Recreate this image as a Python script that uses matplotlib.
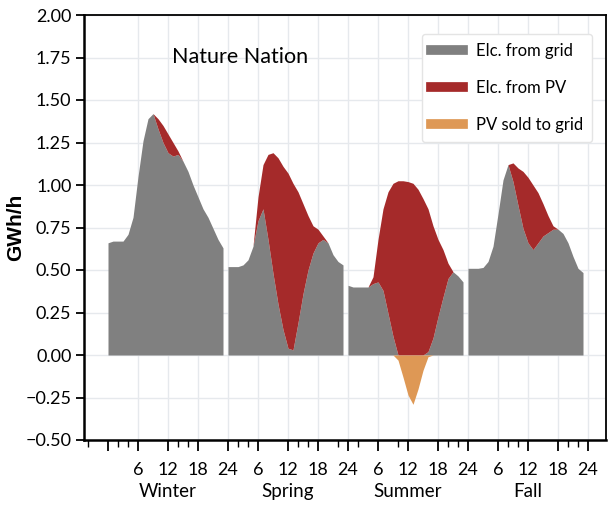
"""
Hourly electricity supply profile by season: grid, PV self-use and PV export.
Saves to out.png
"""

import numpy as np
import matplotlib
matplotlib.use("Agg")
import matplotlib.pyplot as plt
from matplotlib.lines import Line2D

SEASONS = ["Winter", "Spring", "Summer", "Fall"]
HOURS = np.arange(24)

# GWh/h per hour of a typical day
winter_grid = [0.66, 0.67, 0.67, 0.67, 0.71, 0.81, 1.05, 1.26, 1.39, 1.42, 1.33, 1.25,
               1.19, 1.17, 1.18, 1.14, 1.08, 1.00, 0.93, 0.86, 0.81, 0.745, 0.68, 0.63]
winter_pv = [0, 0, 0, 0, 0, 0, 0, 0, 0, 0.0, 0.06, 0.10,
             0.11, 0.08, 0.02, 0, 0, 0, 0, 0, 0, 0, 0, 0]
winter_sold = [0] * 24

spring_grid = [0.52, 0.52, 0.52, 0.53, 0.56, 0.64, 0.79, 0.86, 0.68, 0.48, 0.30, 0.15,
               0.04, 0.03, 0.19, 0.36, 0.50, 0.60, 0.66, 0.68, 0.66, 0.59, 0.55, 0.53]
spring_pv = [0, 0, 0, 0, 0, 0.0, 0.14, 0.26, 0.50, 0.71, 0.86, 0.96,
             1.03, 0.98, 0.77, 0.53, 0.32, 0.16, 0.08, 0.02, 0, 0, 0, 0]
spring_sold = [0] * 24

summer_grid = [0.41, 0.40, 0.40, 0.40, 0.40, 0.42, 0.43, 0.38, 0.245, 0.11, 0.0, 0.0,
               0.0, 0.0, 0.0, 0.0, 0.02, 0.10, 0.225, 0.34, 0.45, 0.49, 0.465, 0.43]
summer_pv = [0, 0, 0, 0, 0.0, 0.04, 0.25, 0.48, 0.715, 0.90, 1.025, 1.025,
             1.02, 1.01, 0.975, 0.92, 0.84, 0.66, 0.455, 0.28, 0.09, 0.0, 0, 0]
summer_sold = [0, 0, 0, 0, 0, 0, 0, 0, 0, 0.0, 0.03, 0.13,
               0.235, 0.29, 0.20, 0.09, 0.01, 0.0, 0, 0, 0, 0, 0, 0]

fall_grid = [0.51, 0.51, 0.51, 0.515, 0.55, 0.64, 0.83, 1.03, 1.12, 1.02, 0.88, 0.745,
             0.66, 0.62, 0.66, 0.70, 0.72, 0.74, 0.74, 0.715, 0.66, 0.58, 0.51, 0.485]
fall_pv = [0, 0, 0, 0, 0, 0, 0, 0, 0.0, 0.11, 0.22, 0.335,
           0.385, 0.38, 0.295, 0.19, 0.10, 0.02, 0.0, 0, 0, 0, 0, 0]
fall_sold = [0] * 24

GRID = [winter_grid, spring_grid, summer_grid, fall_grid]
PV = [winter_pv, spring_pv, summer_pv, fall_pv]
SOLD = [winter_sold, spring_sold, summer_sold, fall_sold]

C_GRID = "#808080"
C_PV = "#a52a2a"
C_SOLD = "#de9855"

plt.rcParams.update({
    "font.family": ["Lato", "DejaVu Sans"],
    "font.size": 13,
})

fig = plt.figure(figsize=(6.11, 5.05), dpi=100)
ax = fig.add_axes([84 / 611, 65 / 505, 522 / 611, 425 / 505])

for i in range(len(SEASONS)):
    x = 24 * i + HOURS
    g = np.array(GRID[i])
    p = np.array(PV[i])
    s = np.array(SOLD[i])
    ax.fill_between(x, 0, g, color=C_GRID, lw=0, zorder=2)
    ax.fill_between(x, g, g + p, where=p > 0, interpolate=True, color=C_PV, lw=0, zorder=2)
    ax.fill_between(x, 0, -s, where=s > 0, interpolate=True, color=C_SOLD, lw=0, zorder=2)

ax.set_xlim(-4.8, 99.6)
ax.set_ylim(-0.5, 2.0)

major = np.arange(0, 97, 6)
ax.set_xticks(major)
ax.set_xticklabels([""] + [str(h) for h in [6, 12, 18, 24] * 4])
ax.set_xticks([-4, 2, 4, 14, 16, 26, 28, 38, 40, 46, 50, 58, 68, 70, 80, 82, 92, 94], minor=True)
ax.set_yticks(np.arange(-0.5, 2.01, 0.25))
ax.set_yticklabels([f"{v:.2f}".replace("-", "\u2212") for v in np.arange(-0.5, 2.01, 0.25)])

ax.tick_params(axis="x", which="major", length=8, width=1.3, pad=8)
ax.tick_params(axis="x", which="minor", length=5, width=1.0)
ax.tick_params(axis="y", length=6, width=1.3, pad=3)

ax.grid(True, which="major", color="#e6e9ed", lw=1.0, zorder=0)
ax.xaxis.get_gridlines()[0].set_visible(False)
ax.set_axisbelow(True)

for side in ["left", "bottom"]:
    ax.spines[side].set_linewidth(1.8)
for side in ["top", "right"]:
    ax.spines[side].set_linewidth(1.3)

for i, name in enumerate(SEASONS):
    ax.text(24 * i + 12, -0.122, name, transform=ax.get_xaxis_transform(),
            ha="center", va="center", fontsize=13.5)

ax.set_ylabel("GWh/h", family="Liberation Sans", fontweight="bold", fontsize=15)
ax.yaxis.set_label_coords(-0.113, 0.5)
ax.text(0.299, 0.901, "Nature Nation", transform=ax.transAxes, ha="center", va="center", fontsize=15.5)

handles = [Line2D([0], [0], color=c, lw=7) for c in (C_GRID, C_PV, C_SOLD)]
leg = ax.legend(handles, ["Elc. from grid", "Elc. from PV", "PV sold to grid"],
                loc="upper right", bbox_to_anchor=(0.99, 0.975), fontsize=12,
                handlelength=1.9, handletextpad=0.8, labelspacing=1.25,
                borderpad=0.55, framealpha=1)
leg.get_frame().set_edgecolor("#e4e4e4")

plt.savefig("out.png", dpi=100)
